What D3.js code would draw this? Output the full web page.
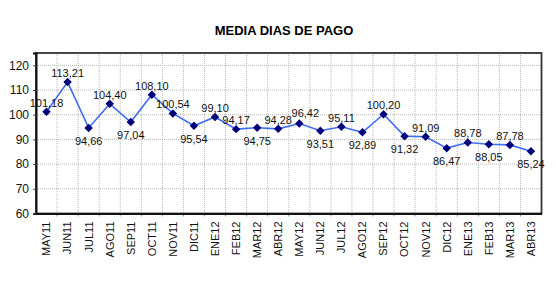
<!DOCTYPE html>
<html>
<head>
<meta charset="utf-8">
<title>MEDIA DIAS DE PAGO</title>
<script src="https://cdn.jsdelivr.net/npm/d3@7"></script>
<style>
  body { margin: 0; background: #fff; }
  svg { font-family: "Liberation Sans", Arial, sans-serif; }
  .grid line { stroke: #b8b8b8; stroke-dasharray: 1,1; }
  .line { fill: none; stroke: #3f6ef5; stroke-width: 1.6; }
</style>
</head>
<body>
<script>
// months on the x axis
var months = ["MAY11","JUN11","JUL11","AGO11","SEP11","OCT11","NOV11","DIC11",
              "ENE12","FEB12","MAR12","ABR12","MAY12","JUN12","JUL12","AGO12",
              "SEP12","OCT12","NOV12","DIC12","ENE13","FEB13","MAR13","ABR13"];
// average payment days
var dias = [101.18,113.21,94.66,104.40,97.04,108.10,100.54,95.54,
            99.10,94.17,94.75,94.28,96.42,93.51,95.11,92.89,
            100.20,91.32,91.09,86.47,88.78,88.05,87.78,85.24];
// where the value label sits: 1 above the point, 0 below
var labelAbove = [1,1,0,1,0,1,1,0, 1,1,0,1,1,0,1,0, 1,0,1,0,1,0,1,0];
var yTicks = [60,70,80,90,100,110,120];

// plot box
var margin = {left: 36, right: 541.5, top: 53, bottom: 213.5};
var W = 556, H = 286;

var svg = d3.select("body").append("svg")
    .attr("width", W)
    .attr("height", H);

var x = d3.scaleBand().domain(months).range([margin.left, margin.right]).padding(0);
var y = d3.scaleLinear().domain([60, 125]).range([margin.bottom, margin.top]);

// title
svg.append("text")
   .attr("x", 284)
   .attr("y", 35)
   .attr("text-anchor", "middle")
   .style("font-size", "13px")
   .style("font-weight", "bold")
   .text("MEDIA DIAS DE PAGO");

// horizontal grid
svg.append("g").attr("class", "grid")
   .selectAll("line")
   .data(yTicks.filter(function(d) { return d > 60; }))
   .enter().append("line")
   .attr("x1", margin.left).attr("x2", margin.right)
   .attr("y1", function(d) { return y(d); })
   .attr("y2", function(d) { return y(d); });

// vertical grid at category boundaries
svg.append("g").attr("class", "grid")
   .selectAll("line")
   .data(months.slice(1))
   .enter().append("line")
   .attr("x1", function(d) { return x(d); })
   .attr("x2", function(d) { return x(d); })
   .attr("y1", margin.top).attr("y2", margin.bottom);

// small ticks under the x axis
svg.append("g")
   .selectAll("line")
   .data(months.slice(1))
   .enter().append("line")
   .attr("x1", function(d) { return x(d); })
   .attr("x2", function(d) { return x(d); })
   .attr("y1", margin.bottom).attr("y2", margin.bottom + 3)
   .attr("stroke", "#999");

// frame
svg.append("rect")
   .attr("x", margin.left).attr("y", margin.top)
   .attr("width", margin.right - margin.left).attr("height", margin.bottom - margin.top)
   .attr("fill", "none")
   .attr("stroke", "#333")
   .attr("stroke-width", 1.8);

// y axis
var yAxis = svg.append("g")
   .attr("transform", "translate(" + margin.left + ",0)")
   .call(d3.axisLeft(y).tickValues(yTicks).tickSize(3).tickPadding(4));
yAxis.select(".domain").attr("stroke", "#111").attr("stroke-width", 2);
yAxis.selectAll(".tick line").attr("stroke", "#444");
yAxis.selectAll("text").style("font-size", "12px").attr("fill", "#111");

// x axis labels (rotated)
var xAxis = svg.append("g")
   .attr("transform", "translate(0," + margin.bottom + ")")
   .call(d3.axisBottom(x).tickSize(0).tickPadding(0));
xAxis.select(".domain").attr("stroke", "#111").attr("stroke-width", 2);
xAxis.selectAll("text")
   .style("font-size", "11px")
   .attr("fill", "#111")
   .attr("text-anchor", "end")
   .attr("dy", "0.35em")
   .attr("transform", "translate(0,8) rotate(-90)")
   .attr("x", 0).attr("y", 0);

// line
var line = d3.line()
   .x(function(d, i) { return x(months[i]) + x.bandwidth() / 2; })
   .y(function(d) { return y(d); });

svg.append("path")
   .datum(dias)
   .attr("class", "line")
   .attr("d", line);

// diamond markers
svg.selectAll(".pt")
   .data(dias)
   .enter().append("path")
   .attr("class", "pt")
   .attr("d", d3.symbol().type(d3.symbolDiamond2).size(46))
   .attr("transform", function(d, i) {
      return "translate(" + (x(months[i]) + x.bandwidth() / 2) + "," + y(d) + ")";
   })
   .attr("fill", "#00007a");

// value labels
var fmt = d3.format(".2f");
svg.selectAll(".val")
   .data(dias)
   .enter().append("text")
   .attr("class", "val")
   .attr("x", function(d, i) {
      // MAY12 label is nudged right in the original so it clears ABR12
      var dx = months[i] === "MAY12" ? 6 : 0;
      return x(months[i]) + x.bandwidth() / 2 + dx;
   })
   .attr("y", function(d, i) {
      var dy = labelAbove[i] ? -5 : 17;
      if (months[i] === "MAY12") dy = -7;
      return y(d) + dy;
   })
   .attr("text-anchor", "middle")
   .style("font-size", "11px")
   .attr("fill", "#111")
   .text(function(d) { return fmt(d).replace(".", ","); });
</script>
</body>
</html>
